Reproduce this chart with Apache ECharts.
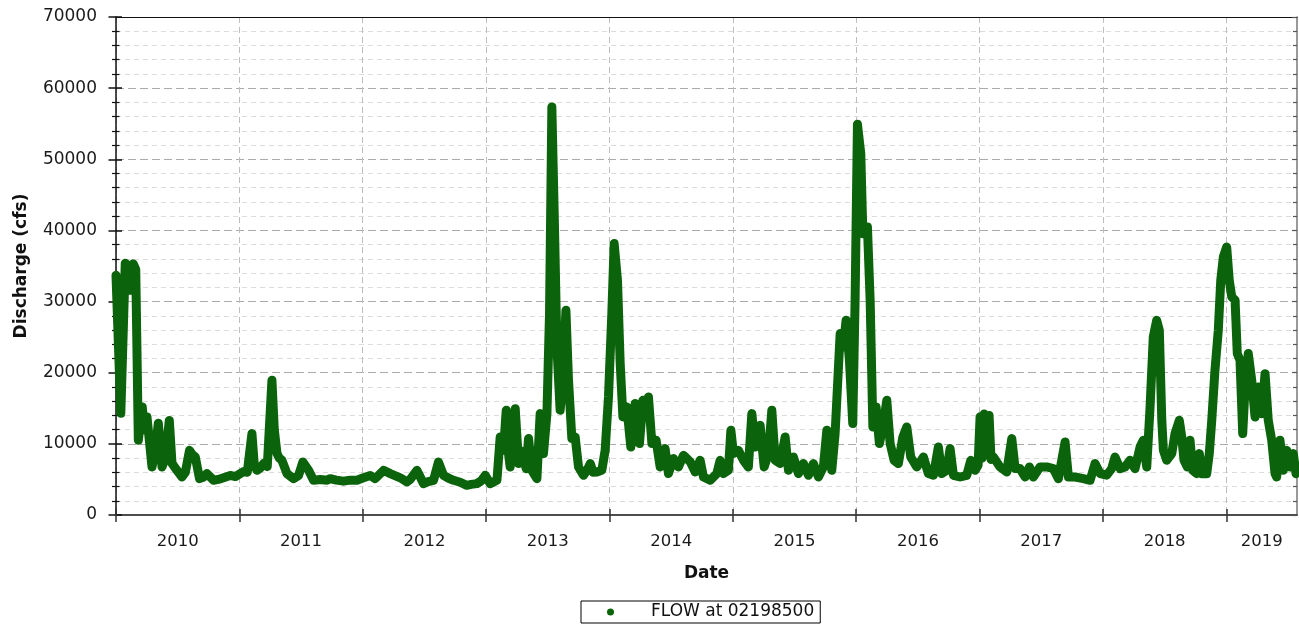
<!DOCTYPE html>
<html><head><meta charset="utf-8">
<script src="https://cdn.jsdelivr.net/npm/echarts@6/dist/echarts.min.js"></script>
<style>html,body{margin:0;padding:0;background:#fff}#c{width:1299px;height:625px}</style>
</head><body><div id="c"></div>
<script>
// Dates as decimal years, daily discharge (cfs)
const decYear = [
2010.000,2010.039,2010.075,2010.100,2010.116,2010.140,2010.160,2010.181,2010.213,2010.229,
2010.251,2010.292,2010.318,2010.343,2010.373,2010.400,2010.432,2010.454,2010.494,2010.535,
2010.562,2010.596,2010.618,2010.643,2010.677,2010.707,2010.737,2010.791,2010.829,2010.872,
2010.926,2010.967,2011.007,2011.034,2011.064,2011.102,2011.121,2011.143,2011.169,2011.196,
2011.226,2011.264,2011.283,2011.305,2011.323,2011.345,2011.386,2011.439,2011.480,2011.515,
2011.561,2011.601,2011.656,2011.710,2011.737,2011.785,2011.844,2011.899,2011.953,2012.006,
2012.061,2012.101,2012.169,2012.223,2012.304,2012.358,2012.385,2012.439,2012.493,2012.531,
2012.574,2012.614,2012.655,2012.693,2012.736,2012.790,2012.844,2012.879,2012.925,2012.960,
2012.993,2013.033,2013.088,2013.114,2013.141,2013.163,2013.179,2013.195,2013.216,2013.236,
2013.263,2013.284,2013.303,2013.325,2013.344,2013.371,2013.412,2013.438,2013.465,2013.493,
2013.514,2013.533,2013.552,2013.574,2013.600,2013.622,2013.647,2013.668,2013.695,2013.722,
2013.749,2013.789,2013.819,2013.844,2013.868,2013.898,2013.938,2013.965,2013.992,2014.019,
2014.038,2014.065,2014.087,2014.109,2014.141,2014.173,2014.208,2014.243,2014.271,2014.297,
2014.316,2014.344,2014.378,2014.411,2014.451,2014.478,2014.519,2014.559,2014.600,2014.654,
2014.695,2014.735,2014.762,2014.816,2014.870,2014.897,2014.924,2014.964,2014.984,2015.005,
2015.045,2015.086,2015.126,2015.154,2015.181,2015.221,2015.254,2015.289,2015.316,2015.343,
2015.383,2015.424,2015.451,2015.491,2015.532,2015.572,2015.613,2015.653,2015.694,2015.734,
2015.762,2015.802,2015.829,2015.848,2015.870,2015.896,2015.918,2015.945,2015.972,2015.991,
2016.010,2016.037,2016.054,2016.072,2016.091,2016.113,2016.135,2016.161,2016.188,2016.216,
2016.248,2016.275,2016.307,2016.342,2016.378,2016.410,2016.442,2016.491,2016.545,2016.585,
2016.626,2016.666,2016.694,2016.734,2016.761,2016.788,2016.842,2016.896,2016.929,2016.964,
2016.988,2017.004,2017.020,2017.036,2017.061,2017.077,2017.093,2017.112,2017.166,2017.220,
2017.261,2017.288,2017.328,2017.369,2017.404,2017.436,2017.490,2017.545,2017.598,2017.639,
2017.693,2017.720,2017.774,2017.841,2017.896,2017.936,2017.977,2018.031,2018.071,2018.098,
2018.139,2018.179,2018.220,2018.260,2018.301,2018.327,2018.355,2018.382,2018.408,2018.436,
2018.457,2018.477,2018.490,2018.517,2018.558,2018.584,2018.619,2018.639,2018.657,2018.684,
2018.706,2018.728,2018.760,2018.781,2018.801,2018.841,2018.862,2018.882,2018.908,2018.935,
2018.955,2018.976,2019.003,2019.024,2019.044,2019.071,2019.089,2019.111,2019.133,2019.152,
2019.178,2019.206,2019.233,2019.259,2019.287,2019.314,2019.340,2019.368,2019.395,2019.408,
2019.435,2019.462,2019.490,2019.516,2019.543,2019.565
];
const flowCfs = [
33700,14300,35400,35000,31600,35300,34500,10500,15200,12000,
13800,6750,9000,12900,6750,8000,13300,7260,6280,5340,
6000,9090,8500,8150,5110,5300,5820,4880,5000,5250,
5560,5400,5820,6110,6000,11440,7000,6280,6600,7230,
6800,18930,12000,8630,8000,7690,5820,5110,5560,7450,
6280,4880,5000,4880,5110,4900,4760,4900,4880,5230,
5560,5110,6280,5820,5230,4650,5000,6280,4410,4700,
4880,7450,5580,5200,4880,4600,4170,4300,4410,4800,
5580,4410,4880,10960,9090,14720,9000,6750,10000,14950,
7230,9000,8150,6500,10740,6280,5110,14250,8630,14250,
28310,57350,42360,23610,14720,18930,28770,18930,10740,10960,
6750,5580,6300,7230,6000,6040,6280,9090,16590,28310,
38150,32990,21280,13780,15180,9560,15660,10040,16120,14250,
16590,10040,10500,6750,9330,5820,7930,6750,8390,7500,
6040,7690,5340,4880,5820,7690,5820,6280,11900,8630,
9090,7690,6750,14250,9560,12610,6750,8630,14720,7690,
7230,10960,6280,8150,5820,7230,5580,7230,5340,6750,
11900,6280,11440,17990,25500,23610,27370,21750,12850,30180,
54920,50800,39550,40480,40480,30180,12370,15180,10040,12370,
16120,10040,7690,7230,10960,12370,8150,6750,8150,5820,
5580,9560,5820,6280,9330,5580,5340,5580,7690,6280,
7000,13800,8000,14200,8500,14000,7800,8150,6750,6040,
10740,6520,6520,5340,6750,5340,6750,6750,6520,5110,
10260,5340,5340,5110,4880,7230,5820,5600,6520,8150,
6520,6750,7690,6520,9560,10500,6750,15180,25020,27370,
25960,13310,9090,7690,8630,11440,13310,10960,7690,6750,
10500,6280,5810,8630,5810,5810,8630,13310,20340,25960,
32990,36270,37670,32990,30650,30180,22690,21750,11440,17990,
22690,18930,13780,17990,14250,19870,13310,10500,5810,5340,
10500,6280,9090,6750,8630,5810
];
const yearStarts = [2010,2011,2012,2013,2014,2015,2016,2017,2018,2019];
const yearLabels = ['2010','2011','2012','2013','2014','2015','2016','2017','2018','2019'];
const xMin = 2010, xMax = 2019.573;
const yMin = 0, yMax = 70000, yStep = 10000;
const seriesName = 'FLOW at 02198500';

const chart = echarts.init(document.getElementById('c'), null, {renderer: 'canvas'});
const data = decYear.map((t, i) => [t, flowCfs[i]]);
const labelPos = yearStarts.map(y => (y + Math.min(y + 1, xMax)) / 2);
const font = 'DejaVu Sans';
const green = '#0b640b';

const xBase = {type: 'value', min: xMin, max: xMax, interval: 1, gridIndex: 0};
const yBase = {type: 'value', min: yMin, max: yMax, interval: yStep, gridIndex: 0};

const option = {
  animation: false,
  backgroundColor: '#fff',
  grid: {left: 116, right: 2, top: 17, height: 498, containLabel: false, outerBoundsMode: 'none'},
  legend: {
    show: true, left: 581, top: 601, orient: 'horizontal',
    padding: [2, 6, 2, 26], itemWidth: 7, itemHeight: 7,
    borderColor: '#000', borderWidth: 1, borderRadius: 0,
    data: [{name: seriesName, icon: 'circle'}],
    formatter: name => '{gap|}{t|' + name + '}',
    textStyle: {
      fontFamily: font, fontSize: 17, color: '#111', lineHeight: 18,
      rich: {
        gap: {width: 32, height: 18},
        t: {fontFamily: font, fontSize: 17, color: '#111', lineHeight: 18}
      }
    }
  },
  xAxis: [
    Object.assign({}, xBase, {
      position: 'bottom',
      axisLine: {show: true, onZero: false, lineStyle: {color: '#4d4d4d', width: 2}},
      axisTick: {show: true, customValues: yearStarts, length: 7, inside: false, lineStyle: {color: '#333', width: 1.5}},
      axisLabel: {
        show: true, customValues: labelPos, margin: 18,
        fontFamily: font, fontSize: 16.5, color: '#1a1a1a',
        formatter: v => yearLabels[Math.floor(v + 1e-9) - yearStarts[0]]
      },
      splitLine: {show: true, lineStyle: {color: '#bdbdbd', width: 1, type: [6, 4]}},
      name: 'Date', nameLocation: 'middle', nameGap: 50,
      nameTextStyle: {fontFamily: font, fontWeight: 'bold', fontSize: 17, color: '#111'}
    }),
    Object.assign({}, xBase, {
      position: 'bottom',
      axisLine: {show: false, onZero: false},
      axisTick: {show: true, customValues: yearStarts, length: 6, inside: true, lineStyle: {color: '#333', width: 1.5}},
      axisLabel: {show: false},
      splitLine: {show: false}
    }),
    Object.assign({}, xBase, {
      position: 'top',
      axisLine: {show: true, onZero: false, lineStyle: {color: '#111', width: 1.2}},
      axisTick: {show: false},
      axisLabel: {show: false},
      splitLine: {show: false}
    })
  ],
  yAxis: [
    Object.assign({}, yBase, {
      position: 'left',
      axisLine: {show: true, onZero: false, lineStyle: {color: '#111', width: 1.5}},
      axisTick: {show: true, length: 7.5, inside: false, lineStyle: {color: '#111', width: 1.5}},
      minorTick: {show: true, splitNumber: 5, length: 4, lineStyle: {color: '#111', width: 1.2}},
      axisLabel: {show: true, margin: 19, fontFamily: font, fontSize: 17, color: '#1a1a1a', formatter: v => String(v)},
      splitLine: {show: true, lineStyle: {color: '#ababab', width: 1, type: [8, 4]}},
      minorSplitLine: {show: true, lineStyle: {color: '#dcdcdc', width: 1, type: [5, 4]}},
      name: 'Discharge (cfs)', nameLocation: 'middle', nameGap: 86,
      nameTextStyle: {fontFamily: font, fontWeight: 'bold', fontSize: 17, color: '#111'}
    }),
    Object.assign({}, yBase, {
      position: 'left',
      axisLine: {show: false, onZero: false},
      axisTick: {show: true, length: 6, inside: true, lineStyle: {color: '#111', width: 1.5}},
      minorTick: {show: true, splitNumber: 5, length: 3.5, lineStyle: {color: '#111', width: 1.2}},
      axisLabel: {show: false},
      splitLine: {show: false}
    }),
    Object.assign({}, yBase, {
      position: 'right',
      axisLine: {show: true, onZero: false, lineStyle: {color: '#777', width: 1.5}},
      axisTick: {show: true, length: 5, inside: true, lineStyle: {color: '#555', width: 1.2}},
      minorTick: {show: true, splitNumber: 5, length: 4, lineStyle: {color: '#555', width: 1.2}},
      axisLabel: {show: false},
      splitLine: {show: false}
    })
  ],
  series: [{
    name: seriesName, type: 'line', xAxisIndex: 0, yAxisIndex: 0,
    data: data, showSymbol: false, symbol: 'circle', symbolSize: 7,
    lineStyle: {width: 9, color: green, cap: 'round', join: 'round'},
    itemStyle: {color: green},
    emphasis: {disabled: true}
  }]
};
chart.setOption(option);
</script></body></html>
